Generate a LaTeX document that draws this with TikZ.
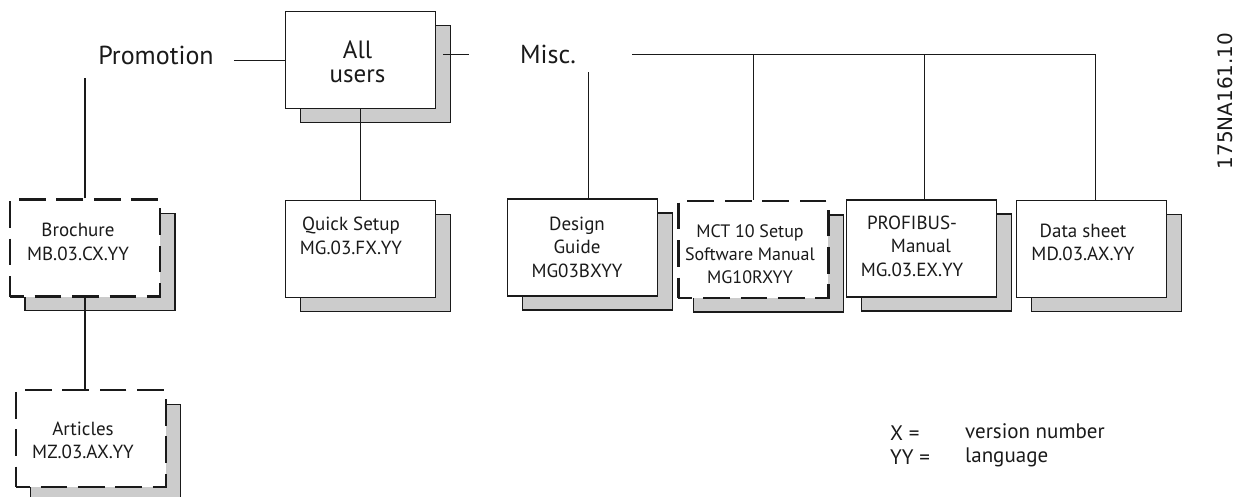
\documentclass[tikz,border=0pt]{standalone}
\usepackage{fontspec}
\setmainfont{PT Sans}
\newfontfamily\stampfont{DejaVu Sans}
\usetikzlibrary{positioning,shadows}
\definecolor{DocInk}{HTML}{1A1A1A}
\definecolor{DocShade}{HTML}{CCCCCC}
\tikzset{
  doc/.style={draw=DocInk,line width=1.3pt,fill=white,minimum width=150pt,
              minimum height=97pt,inner sep=0pt,
              general shadow={shadow xshift=15pt,shadow yshift=-14pt,fill=DocShade,
                              draw=DocInk,solid,line width=1.3pt}},
  docdash/.style={doc,line width=2.2pt,dash pattern=on 26.7pt off 10.7pt,dash phase=12.7pt},
  doctext/.style={text=DocInk,font=\fontsize{19}{23.5}\selectfont,align=center,inner sep=0pt},
  head/.style={text=DocInk,font=\fontsize{26}{21}\selectfont,align=center},
  legend/.style={text=DocInk,font=\fontsize{21}{24}\selectfont,align=left,anchor=west,inner sep=0pt},
  stamp/.style={text=DocInk,font=\stampfont\fontsize{20}{24}\selectfont,inner sep=0pt},
  conn/.style={draw=DocInk,line width=1.3pt},
}

\begin{document}
\begin{tikzpicture}[x=1pt,y=-1pt]
  \useasboundingbox (0,0) rectangle (1242,497);

  % headings
  \node[head,inner xsep=20pt,inner ysep=13pt] (promo) at (156,55.5) {Promotion};
  \node[head,inner xsep=51pt,inner ysep=8.5pt] (misc) at (548,54.3) {Misc.};

  % documents
  \node[doc] (allusers) at (360.6,60.2) {};
  \node[docdash] (brochure) at (85,248) {};
  \node[docdash] (articles) at (90.8,438.7) {};
  \node[doc] (quick) at (360.4,249) {};
  \node[doc] (design) at (582.7,247.5) {};
  \node[docdash] (mct) at (753.4,249.5) {};
  \node[doc] (profibus) at (921.5,248.6) {};
  \node[doc] (datasheet) at (1091.3,249) {};

  \node[head,font=\fontsize{25}{24}\selectfont,inner sep=0pt] (allusers-txt) at (357.6,62) {All\\users};
  \node[doctext] (brochure-txt) at (78,242) {Brochure\\MB.03.CX.YY};
  \node[doctext] (articles-txt) at (83,440.5) {Articles\\MZ.03.AX.YY};
  \node[doctext] (quick-txt) at (351,236) {Quick Setup\\MG.03.FX.YY};
  \node[doctext] (design-txt) at (577,247) {Design\\Guide\\MG03BXYY};
  \node[doctext,font=\fontsize{18}{23}\selectfont] (mct-txt) at (750,254)
    {MCT 10 Setup\\Software Manual\\MG10RXYY};
  \node[doctext] (profibus-txt) at (912,246) {PROFIBUS-\\\hspace*{18pt}Manual\\MG.03.EX.YY};
  \node[doctext] (datasheet-txt) at (1083,242.5) {Data sheet\\MD.03.AX.YY};

  % connections
  \coordinate[right=7pt of allusers.east] (misctap);
  \coordinate[right=6pt of design.north] (designtap);
  \coordinate[right=3.2pt of profibus.north] (profitap);
  \coordinate[right=4pt of datasheet.north] (datatap);

  \draw[conn] (promo.east |- allusers.west) -- (allusers.west);
  \draw[conn] (misctap |- misc.west) -- (misc.west);
  \draw[conn] (brochure.north) -- (brochure.north |- promo.south);
  \draw[conn] (brochure.south) -- (brochure.south |- articles.north);
  \draw[conn] (allusers.south) -- (allusers.south |- quick.north);
  \draw[conn] (designtap) -- (designtap |- misc.south);
  \draw[conn] ([xshift=5pt]misc.east) -| (datatap);
  \draw[conn] (mct.north) -- (mct.north |- misc.east);
  \draw[conn] (profitap) -- (profitap |- misc.east);

  % key
  \node[legend] (keysym) at (890,445) {X =\\YY =};
  \node[legend] (keytext) at (965,445) {version number\\language};
  \node[stamp,rotate=90] (drawno) at (1225,101) {175NA161.10};
\end{tikzpicture}
\end{document}
